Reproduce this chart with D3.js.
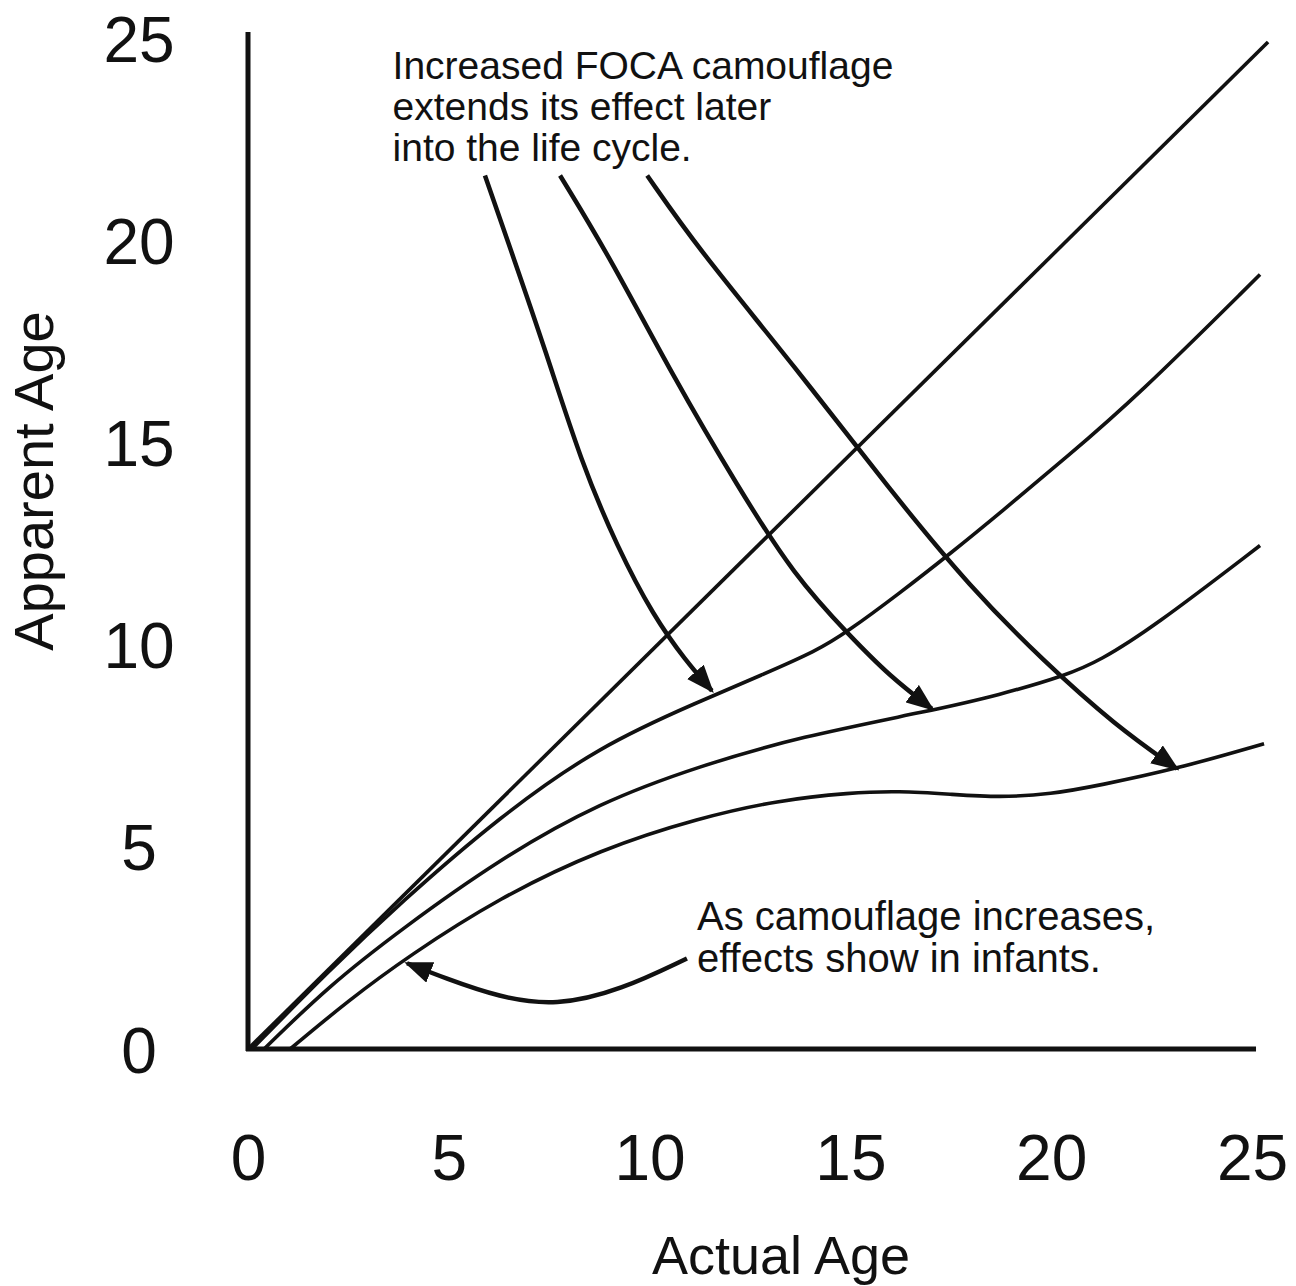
<html>
<head>
<meta charset="UTF-8">
<title>Apparent Age vs Actual Age</title>
<style>
  body { margin: 0; background: #fff; }
  text { font-family: "Liberation Sans", Arial, sans-serif; fill: #111; }
  .curve { fill: none; stroke: #111; stroke-width: 3.6; }
  .arrow { fill: none; stroke: #111; stroke-width: 4.5; }
  .axisline { stroke: #111; stroke-width: 5; }
</style>
</head>
<body>
<script src="https://cdnjs.cloudflare.com/ajax/libs/d3/7.8.5/d3.min.js"></script>
<script>
// tick labels
var xTicks = [0, 5, 10, 15, 20, 25];
var yTicks = [0, 5, 10, 15, 20, 25];

// series: [actual age, apparent age]
var noCamo   = [[0, 0], [25.4, 24.9]];
var lowCamo  = [[0.1, 0], [2, 1.92], [3.8, 3.62], [6.27, 5.75], [8.76, 7.5], [11.25, 8.6], [12.8, 9.25],
                [14.17, 9.85], [14.9, 10.3], [16.2, 11.25], [17.55, 12.3], [18.72, 13.25], [20.4, 14.65],
                [22.1, 16.1], [25.2, 19.15]];
var midCamo  = [[0.4, 0], [2, 1.55], [3.8, 2.95], [6.27, 4.7], [8.76, 6.1], [11.25, 7.0], [13.74, 7.72],
                [16.98, 8.36], [18.7, 8.75], [20.4, 9.25], [21.2, 9.6], [22.5, 10.4], [25.2, 12.45]];
var highCamo = [[1.05, 0], [2.5, 1.2], [4, 2.3], [6.27, 3.75], [8.8, 4.95], [11.25, 5.72], [13.2, 6.15],
                [15, 6.34], [16.2, 6.38], [17.5, 6.3], [18.7, 6.22], [20, 6.3], [21.2, 6.52], [23.1, 6.92], [25.3, 7.55]];

// annotation arrows (data units)
var arrow1 = [[5.9, 21.6], [6.6, 19.6], [7.4, 17.3], [8.3, 14.5], [9.2, 12.4], [10.1, 10.7],
              [10.9, 9.6], [11.55, 8.86]];
var arrow2 = [[7.77, 21.6], [9.0, 19.6], [10.6, 16.6], [12.2, 13.9], [13.6, 11.7], [15.0, 10.2],
              [16.0, 9.2], [17.03, 8.41]];
var arrow3 = [[9.94, 21.6], [11.2, 19.8], [13.6, 16.9], [16.0, 13.8], [18.0, 11.4], [19.8, 9.6],
              [21.6, 8.0], [23.13, 6.93]];
var arrow4 = [[10.93, 2.24], [9.29, 1.46], [7.67, 1.06], [6.25, 1.28], [4.91, 1.75], [3.96, 2.12]];

var note1 = ["Increased FOCA camouflage", "extends its effect later", "into the life cycle."];
var note2 = ["As camouflage increases,", "effects show in infants."];

var width = 1296, height = 1286;

var x = d3.scaleLinear().domain([0, 25]).range([248, 1252]);
var y = d3.scaleLinear().domain([0, 25]).range([1049, 38]);

var svg = d3.select("body").append("svg")
  .attr("width", width)
  .attr("height", height);

var defs = svg.append("defs");
defs.append("marker")
  .attr("id", "head")
  .attr("markerUnits", "userSpaceOnUse")
  .attr("viewBox", "0 0 28 22")
  .attr("refX", 25)
  .attr("refY", 11)
  .attr("markerWidth", 28)
  .attr("markerHeight", 22)
  .attr("orient", "auto")
  .append("path")
  .attr("d", "M0,0 L28,11 L0,22 Z")
  .attr("fill", "#111");

// axes
svg.append("line").attr("class", "axisline")
  .attr("x1", x(0)).attr("x2", x(0))
  .attr("y1", y(0) + 2).attr("y2", y(25.15));
svg.append("line").attr("class", "axisline")
  .attr("x1", x(0) - 2).attr("x2", x(25.1))
  .attr("y1", y(0)).attr("y2", y(0));

var xAxis = svg.append("g")
  .attr("transform", "translate(0," + y(0) + ")")
  .call(d3.axisBottom(x).tickValues(xTicks).tickSize(0).tickPadding(86));
xAxis.select(".domain").remove();
xAxis.selectAll("text")
  .style("font-size", "64px")
  .style("font-family", "'Liberation Sans', Arial, sans-serif")
  .attr("fill", "#111");

var yAxis = svg.append("g")
  .attr("transform", "translate(" + x(0) + ",0)")
  .call(d3.axisLeft(y).tickValues(yTicks).tickSize(0));
yAxis.select(".domain").remove();
yAxis.selectAll("text")
  .attr("x", 139 - x(0))
  .attr("text-anchor", "middle")
  .attr("dy", "0.36em")
  .style("font-size", "64px")
  .style("font-family", "'Liberation Sans', Arial, sans-serif")
  .attr("fill", "#111");

// axis titles
svg.append("text")
  .attr("x", 781).attr("y", 1274)
  .attr("text-anchor", "middle")
  .style("font-size", "54px")
  .text("Actual Age");

svg.append("text")
  .attr("transform", "translate(53,481) rotate(-90)")
  .attr("text-anchor", "middle")
  .style("font-size", "56px")
  .text("Apparent Age");

// series
var line = d3.line()
  .x(function(d) { return x(d[0]); })
  .y(function(d) { return y(d[1]); })
  .curve(d3.curveBasis);

svg.selectAll(".curve")
  .data([noCamo, lowCamo, midCamo, highCamo])
  .enter().append("path")
  .attr("class", "curve")
  .attr("d", line);

// arrows
svg.selectAll(".arrow")
  .data([arrow1, arrow2, arrow3, arrow4])
  .enter().append("path")
  .attr("class", "arrow")
  .attr("d", line)
  .attr("marker-end", "url(#head)");

// notes
svg.append("text")
  .attr("x", x(3.6)).attr("y", y(23.98))
  .style("font-size", "39px")
  .selectAll("tspan")
  .data(note1)
  .enter().append("tspan")
  .attr("x", x(3.6))
  .attr("dy", function(d, i) { return i === 0 ? 0 : 41; })
  .text(function(d) { return d; });

svg.append("text")
  .attr("x", x(11.18)).attr("y", y(2.94))
  .style("font-size", "40px")
  .selectAll("tspan")
  .data(note2)
  .enter().append("tspan")
  .attr("x", x(11.18))
  .attr("dy", function(d, i) { return i === 0 ? 0 : 42; })
  .text(function(d) { return d; });
</script>
</body>
</html>
